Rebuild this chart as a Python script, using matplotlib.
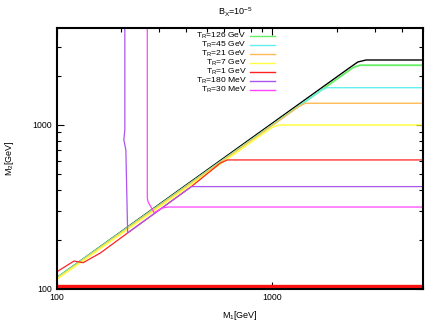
import matplotlib
matplotlib.use('Agg')
import matplotlib.pyplot as plt
from matplotlib.ticker import FixedLocator, FixedFormatter, LogLocator, NullFormatter

plt.rcParams['font.family'] = ['Liberation Sans', 'DejaVu Sans']
plt.rcParams['mathtext.default'] = 'regular'

# ---- data ----
title = r'B$_X$=10$^{-5}$'
xlabel = r'M$_1$[GeV]'
ylabel = r'M$_2$[GeV]'
xticks = [100, 1000]
xticklabels = ['100', '1000']
yticks = [100, 1000]
yticklabels = ['100', '1000']

labels = [r'T$_R$=126 GeV', r'T$_R$=45 GeV', r'T$_R$=21 GeV', r'T$_R$=7 GeV',
          r'T$_R$=1 GeV', r'T$_R$=180 MeV', r'T$_R$=30 MeV']
colors = ['#66ee66', '#66eeee', '#ffbb55', '#ffff44', '#ff2222', '#aa55ee', '#ff44ff']

m1_black = [100, 2285, 2500, 2730, 5000]
m2_black = [116.7, 2228, 2420, 2489, 2489]

m1_126 = [100, 2380, 2560, 5000]
m2_126 = [116.7, 2240, 2313, 2313]

m1_45 = [100, 1700, 1800, 5000]
m2_45 = [116.3, 1636, 1687, 1687]

m1_21 = [100, 1330, 1430, 5000]
m2_21 = [115.5, 1295, 1356, 1356]

m1_7 = [100, 1000, 1080, 5000]
m2_7 = [114.3, 966, 1000, 1000]

m1_1 = [100.5, 120.5, 126, 133, 160, 213.6, 422.5, 575, 620, 5000]
m2_1 = [127.5, 148, 146.5, 144.7, 166, 219.5, 421, 585, 612, 612]

m1_180 = [207.5, 207.5, 205.3, 209.8, 213.6, 213.6, 422.5, 440, 5000]
m2_180 = [5000, 932, 810, 704, 235.5, 219.5, 421, 421, 421]

m1_30 = [263.8, 263.8, 266, 283.7, 310, 330, 5000]
m2_30 = [5000, 359, 340, 291.7, 312, 316, 316]

m1_bottom = [100, 5000]
m2_bottom = [104, 104]

series_m1 = [m1_126, m1_45, m1_21, m1_7, m1_1, m1_180, m1_30]
series_m2 = [m2_126, m2_45, m2_21, m2_7, m2_1, m2_180, m2_30]

# ---- figure ----
fig = plt.figure(figsize=(4.36, 3.27), dpi=100)
ax = fig.add_axes([56.5/436, 1-289/327, (422.7-56.5)/436, (289-28)/327])
ax.set_xscale('log')
ax.set_yscale('log')
ax.set_xlim(100, 5000)
ax.set_ylim(100, 3900)

ax.plot(m1_bottom, m2_bottom, color='#ff1111', lw=2.4, solid_capstyle='butt')
ax.plot(m1_black, m2_black, color='black', lw=1.0)
widths = [1.3, 1.0, 1.0, 1.1, 0.9, 0.9, 0.9]
for xs, ys, c, w in zip(series_m1, series_m2, colors, widths):
    ax.plot(xs, ys, color=c, lw=w)

# legend (gnuplot style: right-aligned text, sample to the right)
row_px = [35.5, 44.5, 53.5, 62.5, 71.5, 80.5, 89.5]
for lab, c, py in zip(labels, colors, row_px):
    yf = (289 - py) / 261
    ax.text(0.519, yf - 0.009, lab, transform=ax.transAxes, ha='right',
            va='baseline', fontsize=6.1)
    ax.plot([0.528, 0.597], [yf, yf], transform=ax.transAxes, color=c, lw=1.0)

for s in ax.spines.values():
    s.set_linewidth(1.5)
    s.set_color('black')

ax.xaxis.set_major_locator(FixedLocator(xticks))
ax.xaxis.set_major_formatter(FixedFormatter(xticklabels))
ax.yaxis.set_major_locator(FixedLocator(yticks))
ax.yaxis.set_major_formatter(FixedFormatter(yticklabels))
ax.xaxis.set_minor_locator(LogLocator(base=10, subs=range(2, 10)))
ax.yaxis.set_minor_locator(LogLocator(base=10, subs=range(2, 10)))
ax.xaxis.set_minor_formatter(NullFormatter())
ax.yaxis.set_minor_formatter(NullFormatter())
ax.tick_params(which='both', direction='in', top=True, right=True,
               labelsize=6.3, width=0.8, pad=3)
ax.tick_params(which='major', length=5)
ax.tick_params(which='minor', length=3)

ax.set_xlabel(xlabel, fontsize=6.5, labelpad=5)
ax.set_ylabel(ylabel, fontsize=6.5, labelpad=12)
fig.text(0.54, 0.962, title, ha='center', va='center', fontsize=6.5)

fig.savefig('out.png', dpi=100)
